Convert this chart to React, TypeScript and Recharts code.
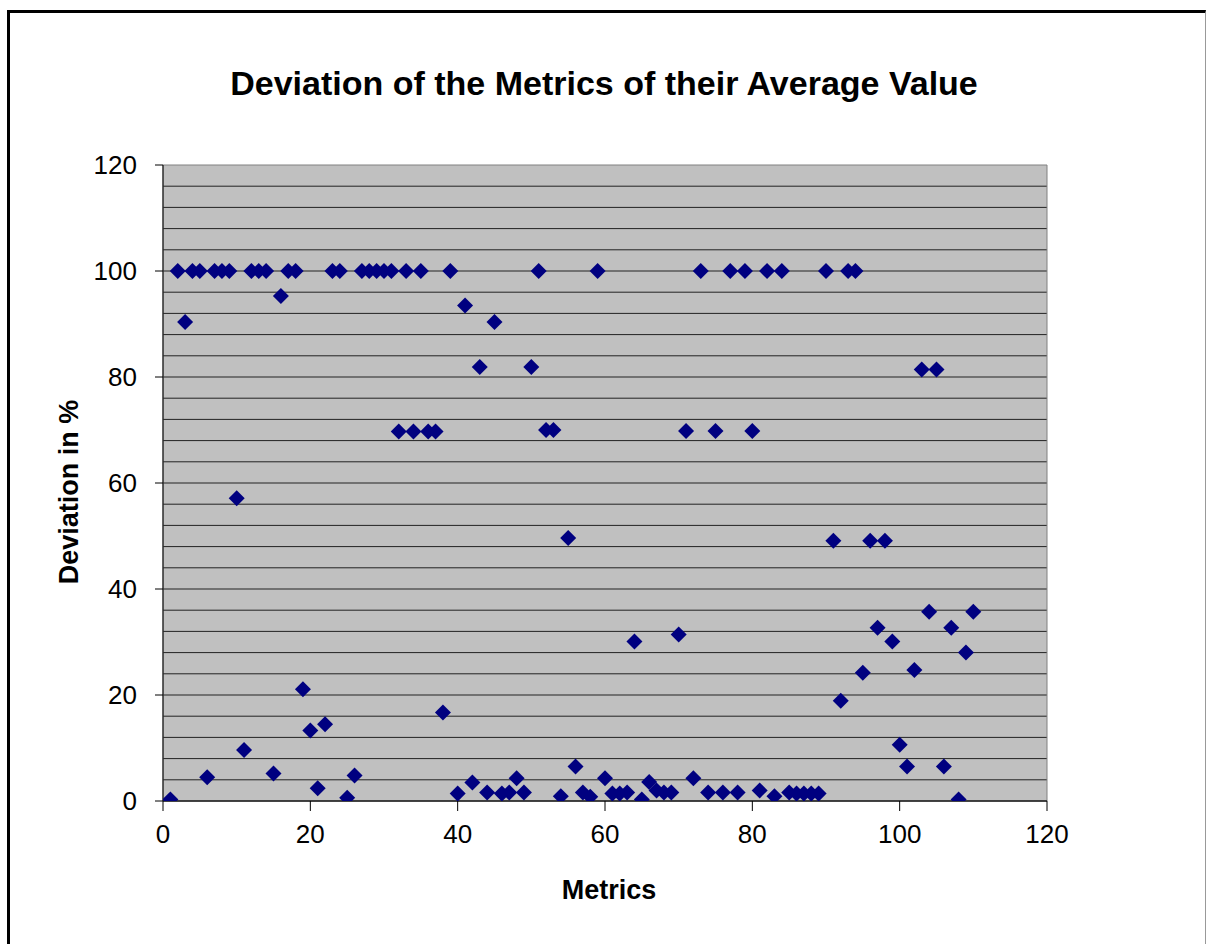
import React from 'react';
import { ScatterChart, Scatter, XAxis, YAxis, CartesianGrid, ReferenceArea, Label } from 'recharts';

const chartTitle = 'Deviation of the Metrics of their Average Value';
const xAxisTitle = 'Metrics';
const yAxisTitle = 'Deviation in %';

const metricIds = [
  1, 2, 3, 4, 5, 6, 7, 8, 9, 10,
  11, 12, 13, 14, 15, 16, 17, 18, 19, 20,
  21, 22, 23, 24, 25, 26, 27, 28, 29, 30,
  31, 32, 33, 34, 35, 36, 37, 38, 39, 40,
  41, 42, 43, 44, 45, 46, 47, 48, 49, 50,
  51, 52, 53, 54, 55, 56, 57, 58, 59, 60,
  61, 62, 63, 64, 65, 66, 67, 68, 69, 70,
  71, 72, 73, 74, 75, 76, 77, 78, 79, 80,
  81, 82, 83, 84, 85, 86, 87, 88, 89, 90,
  91, 92, 93, 94, 95, 96, 97, 98, 99, 100,
  101, 102, 103, 104, 105, 106, 107, 108, 109, 110,
];

const deviations = [
  0.3, 100, 90.4, 100, 100, 4.5, 100, 100, 100, 57.1,
  9.6, 100, 100, 100, 5.2, 95.3, 100, 100, 21.1, 13.3,
  2.4, 14.5, 100, 100, 0.6, 4.8, 100, 100, 100, 100,
  100, 69.7, 100, 69.7, 100, 69.7, 69.7, 16.7, 100, 1.4,
  93.5, 3.5, 81.9, 1.6, 90.4, 1.4, 1.6, 4.3, 1.6, 81.9,
  100, 70, 70, 0.9, 49.6, 6.5, 1.6, 0.8, 100, 4.3,
  1.4, 1.4, 1.6, 30.1, 0.3, 3.6, 2.0, 1.6, 1.6, 31.4,
  69.8, 4.3, 100, 1.6, 69.8, 1.6, 100, 1.6, 100, 69.8,
  2.0, 100, 0.9, 100, 1.6, 1.4, 1.4, 1.4, 1.4, 100,
  49.1, 18.9, 100, 100, 24.2, 49.1, 32.7, 49.1, 30.1, 10.6,
  6.5, 24.7, 81.4, 35.7, 81.4, 6.5, 32.7, 0.3, 28, 35.7,
];

const xTicks = [0, 20, 40, 60, 80, 100, 120];
const yTicks = [0, 20, 40, 60, 80, 100, 120];
const gridValues = [0, 4, 8, 12, 16, 20, 24, 28, 32, 36, 40, 44, 48, 52, 56, 60, 64, 68, 72, 76, 80, 84, 88, 92, 96, 100, 104, 108, 112, 116];

const data = metricIds.map((id, i) => ({ x: id, y: deviations[i] }));

const FONT = '"Liberation Sans", Arial, Helvetica, sans-serif';

const Diamond = (props: any) => {
  const { cx, cy } = props;
  if (cx == null || cy == null) return null;
  const r = 8;
  return (
    <polygon
      points={`${cx},${cy - r} ${cx + r},${cy} ${cx},${cy + r} ${cx - r},${cy}`}
      fill="#000080"
    />
  );
};

export default function App() {
  return (
    <div style={{ position: 'absolute', left: 0, top: 0, width: 1206, height: 944, overflow: 'hidden', background: '#fff' }}>
      <div
        style={{
          position: 'absolute',
          left: 7,
          top: 10,
          width: 1195,
          height: 1000,
          borderLeft: '3px solid #000',
          borderTop: '3px solid #000',
          borderRight: '1px solid #999',
          boxSizing: 'content-box',
        }}
      />
      <div
        style={{
          position: 'absolute',
          left: 0,
          top: 63,
          width: 1208,
          textAlign: 'center',
          fontFamily: FONT,
          fontWeight: 'bold',
          fontSize: 34,
          color: '#000',
          lineHeight: '40px',
        }}
      >
        {chartTitle}
      </div>
      <div style={{ position: 'absolute', left: 0, top: 0 }}>
        <ScatterChart width={1206} height={944} margin={{ top: 165, right: 159, bottom: 0, left: 0 }}>
          <CartesianGrid
            horizontal={true}
            vertical={false}
            horizontalValues={gridValues}
            stroke="#222"
            strokeWidth={1}
            fill="#C0C0C0"
            fillOpacity={1}
          />
          <ReferenceArea x1={0} x2={120} y1={0} y2={120} fill="none" stroke="#808080" strokeWidth={1} ifOverflow="visible" />
          <XAxis
            type="number"
            dataKey="x"
            domain={[0, 120]}
            ticks={xTicks}
            interval={0}
            height={143}
            tickSize={10}
            tickMargin={14}
            axisLine={{ stroke: '#000', strokeWidth: 1 }}
            tickLine={{ stroke: '#000', strokeWidth: 1 }}
            tick={{ fill: '#000', fontSize: 26, fontFamily: FONT }}
            allowDataOverflow
          >
            <Label
              value={xAxisTitle}
              position="insideBottom"
              offset={45}
              dx={4}
              style={{ fontFamily: FONT, fontWeight: 'bold', fontSize: 27, fill: '#000' }}
            />
          </XAxis>
          <YAxis
            type="number"
            dataKey="y"
            domain={[0, 120]}
            ticks={yTicks}
            interval={0}
            width={163}
            tickSize={8}
            tickMargin={18}
            axisLine={{ stroke: '#000', strokeWidth: 1 }}
            tickLine={{ stroke: '#000', strokeWidth: 1 }}
            tick={{ fill: '#000', fontSize: 26, fontFamily: FONT }}
            allowDataOverflow
          >
            <Label
              value={yAxisTitle}
              position="insideLeft"
              angle={-90}
              offset={68}
              dy={9}
              style={{ fontFamily: FONT, fontWeight: 'bold', fontSize: 27, fill: '#000', textAnchor: 'middle' }}
            />
          </YAxis>
          <Scatter data={data} shape={Diamond} isAnimationActive={false} />
        </ScatterChart>
      </div>
    </div>
  );
}
